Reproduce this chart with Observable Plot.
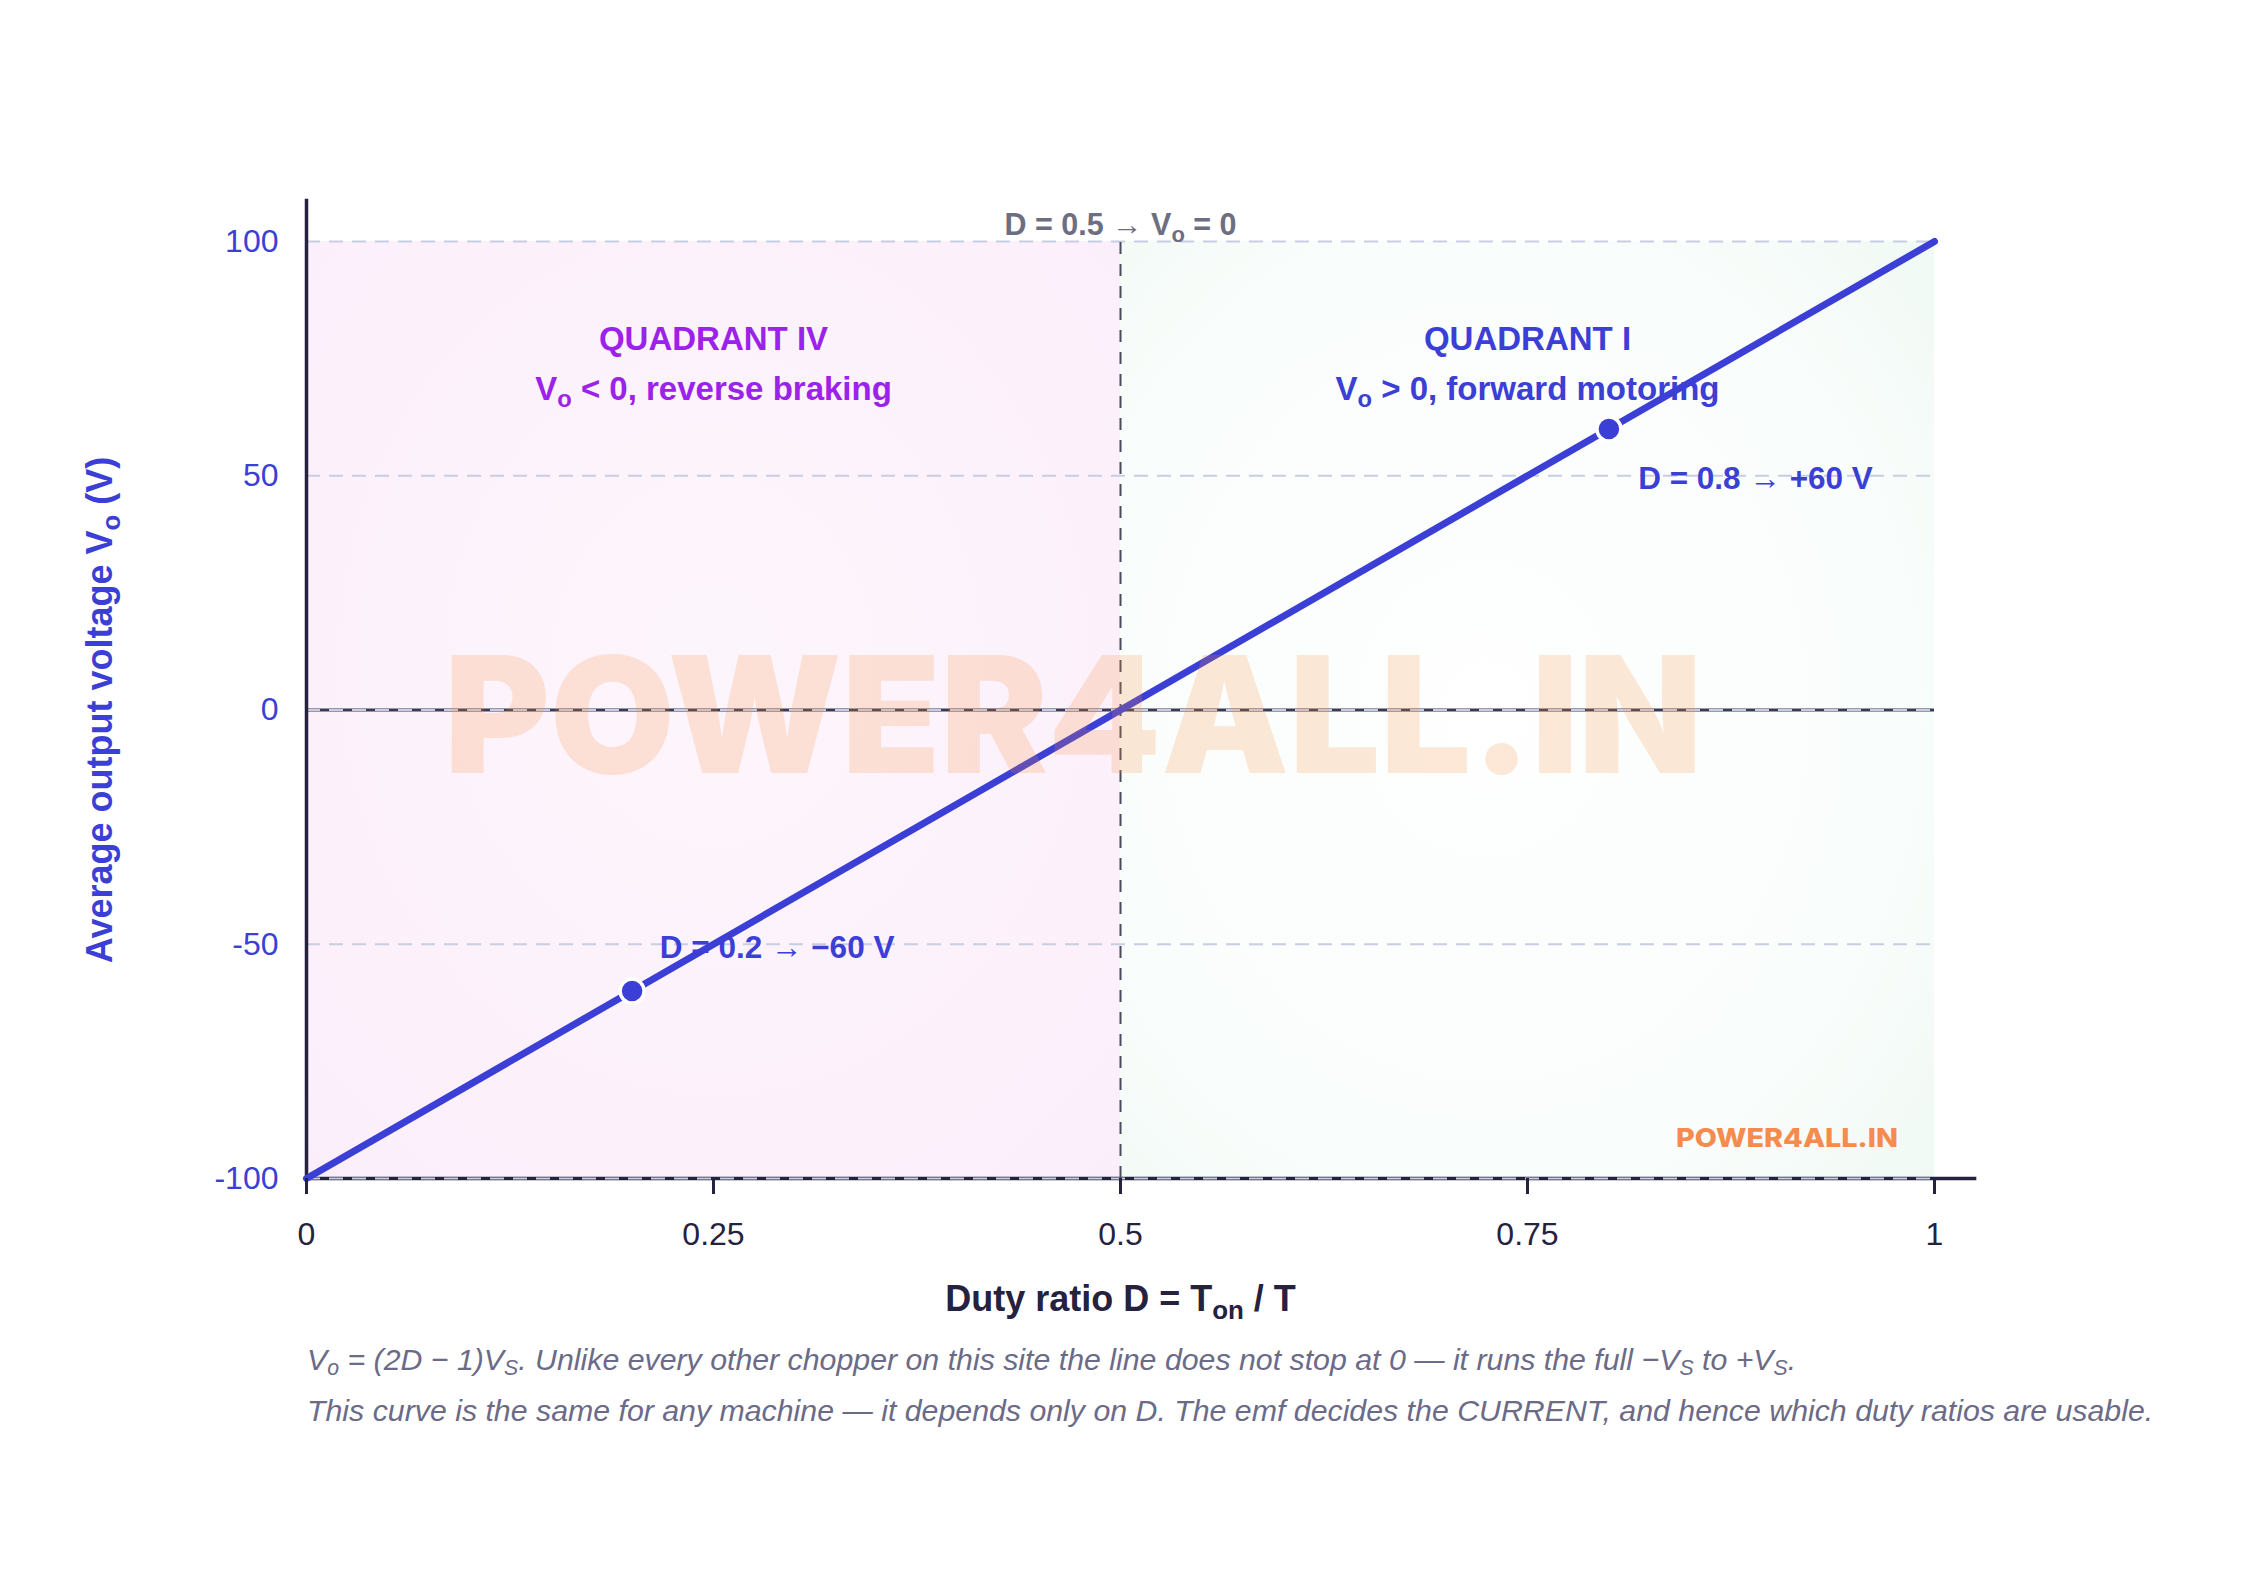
<!DOCTYPE html>
<html>
<head>
<meta charset="utf-8">
<script src="https://cdn.jsdelivr.net/npm/d3@7"></script>
<script src="https://cdn.jsdelivr.net/npm/@observablehq/plot@0.6"></script>
<style>
  body { margin: 0; background: #ffffff; }
  #chart svg { display: block; }
  #caption {
    margin: 4px 0 0 307px;
    font: italic 30.3px "Liberation Sans", Arial, sans-serif;
    color: #6b6b88;
    line-height: 51px;
    white-space: nowrap;
  }
  #caption sub { font-size: 70%; line-height: 0; vertical-align: -0.25em; }
</style>
</head>
<body>
<svg width="0" height="0" style="position:absolute">
  <defs>
    <radialGradient id="gLeft" cx="0.5" cy="0.45" r="0.75">
      <stop offset="0" stop-color="#fdf5fc"/>
      <stop offset="0.7" stop-color="#fcf1fb"/>
      <stop offset="1" stop-color="#faeefb"/>
    </radialGradient>
    <radialGradient id="gRight" cx="0.45" cy="0.5" r="0.75">
      <stop offset="0" stop-color="#fefffe"/>
      <stop offset="0.7" stop-color="#f9fdfb"/>
      <stop offset="1" stop-color="#f0f9f4"/>
    </radialGradient>
  </defs>
</svg>
<div id="chart"></div>
<div id="caption"></div>
<script>
// ---- data ----
const lineD = [0, 1];              // duty ratio endpoints
const lineV = [-100, 100];         // Vo = (2D-1)Vs, Vs = 100
const markD = [0.2, 0.8];
const markV = [-60, 60];
const markLabels = ["D = 0.2 \u2192 \u221260 V", "D = 0.8 \u2192 +60 V"];
const markLabelD = [0.217, 0.818];
const markLabelV = [-50.7, 49.4];
const xTicks = [0, 0.25, 0.5, 0.75, 1];
const yTicks = [-100, -50, 0, 50, 100];
const regionD1 = [0, 0.5];
const regionD2 = [0.5, 1];
const quadTitles = ["QUADRANT IV", "QUADRANT I"];
const quadSubs = ["V_o < 0, reverse braking", "V_o > 0, forward motoring"];
const quadD = [0.25, 0.75];
const quadTitleV = [79, 79];
const quadSubV = [68.5, 68.5];
const crossD = [0.5];
const crossLabel = ["D = 0.5 \u2192 V_o = 0"];
const xLabel = "Duty ratio D = T_on / T";
const yLabel = "Average output voltage V_o (V)";
const watermark = "POWER4ALL.IN";
const captionLines = [
  "V_o = (2D \u2212 1)V_S. Unlike every other chopper on this site the line does not stop at 0 \u2014 it runs the full \u2212V_S to +V_S.",
  "This curve is the same for any machine \u2014 it depends only on D. The emf decides the CURRENT, and hence which duty ratios are usable."
];

// ---- layout ----
const W = 2250, H = 1330;
const mL = 306, mR = 316, mT = 241, mB = H - 1178;
const BLUE = "#3c3fd6", PURPLE = "#9b22e8", DARK = "#24223f";
const FONT = "'Liberation Sans', Arial, sans-serif";

const lineData = lineD.map((d, i) => ({D: d, V: lineV[i]}));
const markData = markD.map((d, i) => ({D: d, V: markV[i], label: markLabels[i], lD: markLabelD[i], lV: markLabelV[i]}));
const regions = regionD1.map((d, i) => ({D1: d, D2: regionD2[i]}));
const quads = quadTitles.map((t, i) => ({t, s: quadSubs[i], D: quadD[i], tv: quadTitleV[i], sv: quadSubV[i]}));

const chart = Plot.plot({
  width: W, height: H,
  marginLeft: mL, marginRight: mR, marginTop: mT, marginBottom: mB,
  x: {domain: [xTicks[0], xTicks[xTicks.length - 1]]},
  y: {domain: [yTicks[0], yTicks[yTicks.length - 1]]},
  style: {fontFamily: FONT, background: "#ffffff", overflow: "visible"},
  marks: [
    // background quadrants
    Plot.rect([regions[0]], {x1: "D1", x2: "D2", y1: yTicks[0], y2: yTicks[yTicks.length - 1], fill: "url(#gLeft)"}),
    Plot.rect([regions[1]], {x1: "D1", x2: "D2", y1: yTicks[0], y2: yTicks[yTicks.length - 1], fill: "url(#gRight)"}),
    // zero line and x-axis line (dark, solid)
    Plot.ruleY([0], {x1: xTicks[0], x2: xTicks[xTicks.length - 1], stroke: "#3a3b52", strokeWidth: 3}),
    Plot.ruleY([yTicks[0]], {x1: xTicks[0], x2: 1.026, stroke: DARK, strokeWidth: 3.5}),
    // dashed gridlines
    Plot.ruleY(yTicks, {x1: xTicks[0], x2: xTicks[xTicks.length - 1], stroke: "#c8cde2", strokeWidth: 2.2, strokeDasharray: "14,9"}),
    // D = 0.5 divider
    Plot.ruleX(crossD, {y1: yTicks[0], y2: yTicks[yTicks.length - 1], stroke: "#4a4a5c", strokeWidth: 2, strokeDasharray: "12,10"}),
    // y axis line
    Plot.ruleX([xTicks[0]], {y1: yTicks[0], y2: 109, stroke: DARK, strokeWidth: 3.5}),
    // characteristic
    Plot.line(lineData, {x: "D", y: "V", stroke: BLUE, strokeWidth: 7, strokeLinecap: "round"}),
    Plot.dot(markData, {x: "D", y: "V", r: 12, fill: BLUE, stroke: "#ffffff", strokeWidth: 3.5}),
    Plot.text(markData, {x: "lD", y: "lV", text: "label", textAnchor: "start", fill: BLUE, fontWeight: "bold", fontSize: 31.5}),
    // quadrant labels
    Plot.text([quads[0]], {x: "D", y: "tv", text: "t", fill: PURPLE, fontWeight: "bold", fontSize: 33}),
    Plot.text([quads[0]], {x: "D", y: "sv", text: "s", fill: PURPLE, fontWeight: "bold", fontSize: 33}),
    Plot.text([quads[1]], {x: "D", y: "tv", text: "t", fill: BLUE, fontWeight: "bold", fontSize: 33}),
    Plot.text([quads[1]], {x: "D", y: "sv", text: "s", fill: BLUE, fontWeight: "bold", fontSize: 33}),
    // D = 0.5 label
    Plot.text(crossLabel, {x: crossD[0], y: yTicks[yTicks.length - 1], dy: -16, fill: "#6e6e82", fontWeight: "bold", fontSize: 30.5}),
    // axes
    Plot.axisX(xTicks, {tickSize: 16, tickPadding: 28, fontSize: 32, color: DARK, strokeWidth: 3, tickFormat: d => String(d), label: null}),
    Plot.axisY(yTicks, {tickSize: 0, tickPadding: 28, fontSize: 32, color: BLUE, tickFormat: d => String(d), label: null}),
    Plot.text([xLabel], {frameAnchor: "bottom", dy: 132, fill: DARK, fontWeight: "bold", fontSize: 36}),
    Plot.text([yLabel], {frameAnchor: "left", textAnchor: "middle", dx: -206, rotate: -90, fill: BLUE, fontWeight: "bold", fontSize: 36}),
    // watermarks
    Plot.text([watermark], {x: 0.471, y: -2.4, fill: "#fb8a3c", fillOpacity: 0.2, fontSize: 162, fontWeight: 900, fontFamily: "Inter, Lato, 'DejaVu Sans', sans-serif", className: "wm-big"}),
    Plot.text([watermark], {x: 0.9776, y: -91.5, textAnchor: "end", fill: "#f58b4c", fontSize: 26, fontWeight: 800, fontFamily: "Inter, Lato, 'DejaVu Sans', sans-serif", className: "wm-small"})
  ]
});

// subscripts: "X_sub" -> tspan
function subscriptify(el) {
  const t = el.textContent;
  if (!t.includes("_")) return;
  const parts = t.split(/_(\w+)/);
  el.textContent = "";
  parts.forEach((p, i) => {
    if (!p) return;
    const ts = document.createElementNS("http://www.w3.org/2000/svg", "tspan");
    ts.textContent = p;
    if (i % 2) { ts.setAttribute("font-size", "72%"); ts.setAttribute("dy", "0.32em"); }
    else if (i > 0) { ts.setAttribute("dy", "-0.23em"); }
    el.appendChild(ts);
  });
}
d3.select(chart).selectAll("text").each(function() { subscriptify(this); });
d3.select(chart).selectAll(".wm-big text").attr("textLength", 1258).attr("lengthAdjust", "spacingAndGlyphs");
d3.select(chart).selectAll(".wm-small text").attr("textLength", 222).attr("lengthAdjust", "spacingAndGlyphs");

document.getElementById("chart").appendChild(chart);

// caption
const cap = document.getElementById("caption");
captionLines.forEach(line => {
  const div = document.createElement("div");
  line.split(/_(\w+)/).forEach((p, i) => {
    if (i % 2) { const s = document.createElement("sub"); s.textContent = p; div.appendChild(s); }
    else div.appendChild(document.createTextNode(p));
  });
  cap.appendChild(div);
});
</script>
</body>
</html>
